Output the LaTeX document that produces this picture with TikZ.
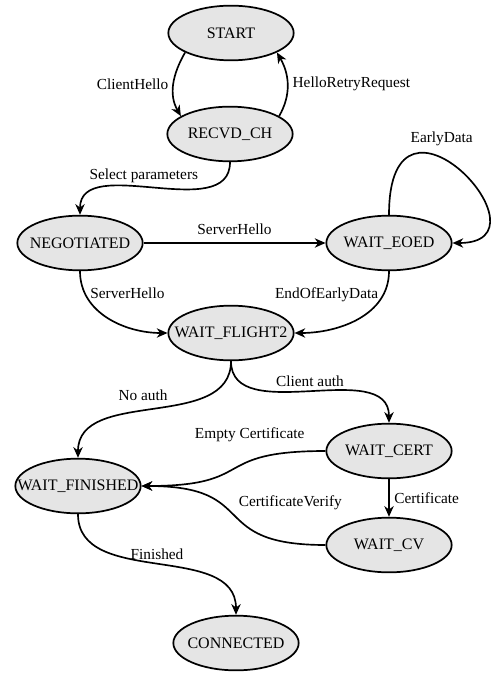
\documentclass[tikz,border=0pt]{standalone}
\usepackage{fontspec}
\setmainfont{Liberation Serif}
\usepackage{tikz}
\usetikzlibrary{arrows.meta,shapes.geometric}
\tikzset{hs/.style={draw=black,ellipse,fill=black!10,line width=1.3pt,minimum width=94pt,minimum height=41pt,inner xsep=-25pt,inner ysep=0pt,font=\fontsize{12}{14}\selectfont}}

\begin{document}
\begin{tikzpicture}[->, >={Stealth[length=8pt,width=7pt,inset=2.5pt]}, line width=1.25pt, x=0.75pt, y=-0.75pt]
\tikzstyle{every node}=[font=\fontsize{11.5}{13}\selectfont]
\useasboundingbox (0,0) rectangle (492,673);
    \node[hs] (start) at (231,33) {START};
    \node[hs] (recvd) at (230,134) {RECVD\_CH};
    \node[hs] (neg) at (80,243) {NEGOTIATED};
    \node[hs] (eoed) at (389,243) {WAIT\_EOED};
    \node[hs] (flight) at (231,333) {WAIT\_FLIGHT2};
    \node[hs] (cert) at (389,451) {WAIT\_CERT};
    \node[hs] (fin) at (78,486) {WAIT\_FINISHED};
    \node[hs] (cv) at (389,545) {WAIT\_CV};
    \node[hs] (conn) at (236,643) {CONNECTED};
    \path (start.203) edge[out=240, in=120] node[left] {ClientHello} (recvd.160);
    \path (recvd.20) edge[out=60, in=300] node[right] {HelloRetryRequest} (start.337);
    \path (recvd.south) edge[out=270, in=90] node[above, pos=0.55] {Select parameters} (neg.north);
    \path (neg) edge node[above=2pt] {ServerHello} (eoed);
    \path (eoed.north) edge[out=90, in=0, out distance=116pt, in distance=79pt] node[above=5pt, pos=0.4] {EarlyData} (eoed.east);
    \path (neg.south) edge[out=270, in=180] node[right, pos=0.2] {ServerHello} (flight.west);
    \path (eoed.south) edge[out=270, in=0] node[left, pos=0.2] {EndOfEarlyData} (flight.east);
    \path (flight.south) edge[out=270, in=90] node[above=4pt, pos=0.55] {No auth} (fin.north);
    \path (flight.south) edge[out=270, in=90] node[above] {Client auth} (cert.north);
    \path (cert.west) edge[out=180, in=0, looseness=1.6] node[above=10pt, pos=0.35] {Empty Certificate} (fin.east);
    \path (cert) edge node[right] {Certificate} (cv);
    \path (cv.west) edge[out=180, in=0, looseness=1.6] node[above right, pos=0.5] {CertificateVerify} (fin.east);
    \path (fin.south) edge[out=270, in=90] node[above] {Finished} (conn.north);
\end{tikzpicture}
\end{document}
